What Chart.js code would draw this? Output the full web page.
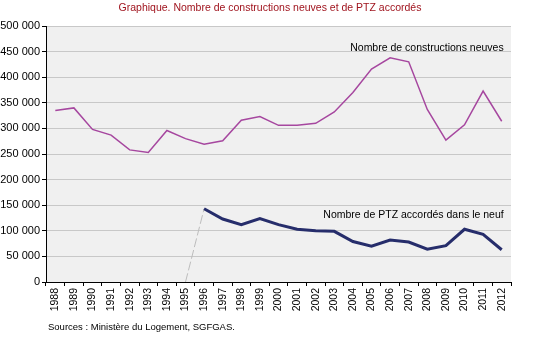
<!DOCTYPE html>
<html>
<head>
<meta charset="utf-8">
<script src="https://cdn.jsdelivr.net/npm/chart.js@4/dist/chart.umd.min.js"></script>
<style>
  html, body { margin: 0; padding: 0; background: #fff; }
  #wrap { width: 550px; height: 338px; position: relative; }
</style>
</head>
<body>
<div id="wrap"><canvas id="chart-area"></canvas></div>
<script>
var years = ['1988', '1989', '1990', '1991', '1992', '1993', '1994', '1995', '1996', '1997',
    '1998', '1999', '2000', '2001', '2002', '2003', '2004', '2005', '2006', '2007',
    '2008', '2009', '2010', '2011', '2012'];

var constructions = [335000, 340000, 298000, 287000, 258000, 253000, 296000, 280000, 269000, 276000,
    316000, 323000, 306000, 306000, 310000, 332000, 370000, 416000, 438000, 430000,
    337000, 277000, 307000, 373000, 314000];

var ptz = [null, null, null, null, null, null, null, null, 143000, 123000,
    112000, 124000, 112000, 103000, 100000, 99000, 79000, 70000, 82000, 78000,
    64000, 71000, 103000, 93000, 63000];

// liaison grise en pointillés entre 1995 (0) et 1996
var ptzStart = [null, null, null, null, null, null, null, 0, 143000, null,
    null, null, null, null, null, null, null, null, null, null,
    null, null, null, null, null];

var yTicksMax = 500000;
var yTicksStep = 50000;

function fmt(v) {
    return String(v).replace(/\B(?=(\d{3})+(?!\d))/g, ' ');
}

var decor = {
    id: 'decor',
    beforeDraw: function (chart) {
        var a = chart.chartArea, ctx = chart.ctx;
        ctx.save();
        ctx.fillStyle = '#f0f0f0';
        ctx.fillRect(a.left, a.top, a.right - a.left, a.bottom - a.top);
        ctx.restore();
    },
    afterDraw: function (chart) {
        var ctx = chart.ctx;
        var x = chart.scales.x, y = chart.scales.y;
        ctx.save();
        ctx.fillStyle = '#a0141e';
        ctx.font = '10.5px "Liberation Sans"';
        ctx.textAlign = 'center';
        ctx.textBaseline = 'middle';
        ctx.fillText('Graphique. Nombre de constructions neuves et de PTZ accordés', 270, 8);

        ctx.fillStyle = '#000';
        ctx.font = '10.5px "Liberation Sans"';
        ctx.textAlign = 'right';
        var xr = x.getPixelForValue(24) + 2;
        ctx.fillText('Nombre de constructions neuves', xr, y.getPixelForValue(456000));
        ctx.fillText('Nombre de PTZ accordés dans le neuf', xr, y.getPixelForValue(130000));

        ctx.textAlign = 'left';
        ctx.font = '9.5px "Liberation Sans"';
        ctx.fillText('Sources : Ministère du Logement, SGFGAS.', 48, 327);
        ctx.restore();
    }
};

var ctx = document.getElementById('chart-area').getContext('2d');
var config = {
    type: 'line',
    data: {
        labels: years,
        datasets: [{
            data: constructions,
            borderColor: '#a6479f',
            borderWidth: 1.5,
            pointRadius: 0,
            tension: 0
        }, {
            data: ptz,
            borderColor: '#262d6b',
            borderWidth: 3,
            pointRadius: 0,
            tension: 0,
            spanGaps: false
        }, {
            data: ptzStart,
            borderColor: '#bcbcbc',
            borderWidth: 1,
            borderDash: [9, 3],
            pointRadius: 0,
            tension: 0
        }]
    },
    options: {
        responsive: true,
        maintainAspectRatio: false,
        animation: false,
        layout: { padding: { top: 26, right: 39, bottom: 26, left: 0 } },
        plugins: {
            legend: { display: false },
            title: { display: false },
            tooltip: { enabled: false }
        },
        scales: {
            x: {
                offset: true,
                afterFit: function (s) { s.height = 30; },
                grid: {
                    offset: true,
                    drawOnChartArea: false,
                    drawTicks: true,
                    tickLength: 4,
                    tickColor: '#000'
                },
                border: { color: '#000', width: 1 },
                ticks: {
                    autoSkip: false,
                    minRotation: 90,
                    maxRotation: 90,
                    padding: 2,
                    color: '#000',
                    font: { family: 'Liberation Sans', size: 10.5 }
                }
            },
            y: {
                min: 0,
                max: yTicksMax,
                afterFit: function (s) { s.width = 46; },
                grid: {
                    color: '#c8c8c8',
                    tickColor: '#000',
                    tickLength: 4
                },
                border: { color: '#000', width: 1 },
                ticks: {
                    stepSize: yTicksStep,
                    padding: 2,
                    color: '#000',
                    font: { family: 'Liberation Sans', size: 11 },
                    callback: function (v) { return fmt(v); }
                }
            }
        }
    },
    plugins: [decor]
};
var chart = new Chart(ctx, config);
</script>
</body>
</html>
